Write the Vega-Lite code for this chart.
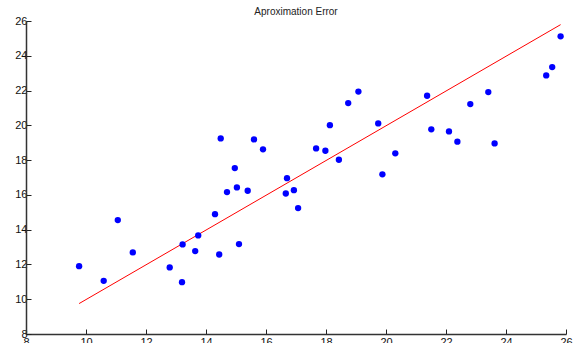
{
  "$schema": "https://vega.github.io/schema/vega-lite/v6.json",
  "width": 540,
  "height": 313,
  "autosize": "none",
  "padding": {"left": 26, "top": 21, "right": 8, "bottom": 9},
  "background": "white",
  "config": {
    "view": {"stroke": null},
    "axis": {
      "grid": false,
      "domainColor": "#333333",
      "domainWidth": 1.5,
      "tickColor": "#222222",
      "tickSize": -5,
      "labelFont": "Liberation Sans",
      "labelFontSize": 11,
      "labelColor": "#111111",
      "labelOverlap": false,
      "labelBound": false,
      "labelFlush": false,
      "title": null
    }
  },
  "title": {
    "text": "Aproximation Error",
    "font": "Liberation Sans",
    "fontSize": 10,
    "fontWeight": "normal",
    "color": "#222222",
    "anchor": "middle",
    "offset": -2
  },
  "datasets": {
    "pts": [
      {"x": 9.77, "y": 11.90}, {"x": 10.59, "y": 11.06}, {"x": 11.06, "y": 14.55},
      {"x": 11.56, "y": 12.69}, {"x": 12.79, "y": 11.83}, {"x": 13.20, "y": 10.98},
      {"x": 13.22, "y": 13.15}, {"x": 13.64, "y": 12.77}, {"x": 13.74, "y": 13.67},
      {"x": 14.30, "y": 14.89}, {"x": 14.44, "y": 12.57}, {"x": 14.70, "y": 16.16},
      {"x": 15.03, "y": 16.43}, {"x": 15.10, "y": 13.17}, {"x": 15.39, "y": 16.24},
      {"x": 14.96, "y": 17.54}, {"x": 16.66, "y": 16.08}, {"x": 16.70, "y": 16.96},
      {"x": 16.93, "y": 16.27}, {"x": 17.07, "y": 15.24}, {"x": 14.49, "y": 19.25},
      {"x": 15.60, "y": 19.19}, {"x": 15.90, "y": 18.62}, {"x": 17.67, "y": 18.67},
      {"x": 17.98, "y": 18.54}, {"x": 18.13, "y": 20.01}, {"x": 18.43, "y": 18.02},
      {"x": 18.74, "y": 21.28}, {"x": 19.08, "y": 21.94}, {"x": 19.74, "y": 20.11},
      {"x": 19.88, "y": 17.18}, {"x": 20.31, "y": 18.39}, {"x": 21.37, "y": 21.70},
      {"x": 21.51, "y": 19.77}, {"x": 22.10, "y": 19.65}, {"x": 22.38, "y": 19.06},
      {"x": 22.81, "y": 21.22}, {"x": 23.41, "y": 21.91}, {"x": 23.62, "y": 18.96},
      {"x": 25.34, "y": 22.87}, {"x": 25.54, "y": 23.35}, {"x": 25.82, "y": 25.12}
    ],
    "fit": [
      {"x": 9.77, "y": 9.75},
      {"x": 25.82, "y": 25.79}
    ]
  },
  "encoding": {
    "x": {"field": "x", "type": "quantitative", "scale": {"domain": [8, 26], "nice": false, "zero": false},
          "axis": {"values": [8, 10, 12, 14, 16, 18, 20, 22, 24, 26], "labelPadding": 7, "labelOverlap": false}},
    "y": {"field": "y", "type": "quantitative", "scale": {"domain": [8, 26], "nice": false, "zero": false},
          "axis": {"values": [8, 10, 12, 14, 16, 18, 20, 22, 24, 26], "labelPadding": 4, "labelOverlap": false}}
  },
  "layer": [
    {
      "data": {"name": "fit"},
      "mark": {"type": "line", "color": "#ff0000", "strokeWidth": 1}
    },
    {
      "data": {"name": "pts"},
      "mark": {"type": "point", "filled": true, "shape": "circle", "color": "#0000ff", "opacity": 1, "size": 40}
    }
  ]
}
